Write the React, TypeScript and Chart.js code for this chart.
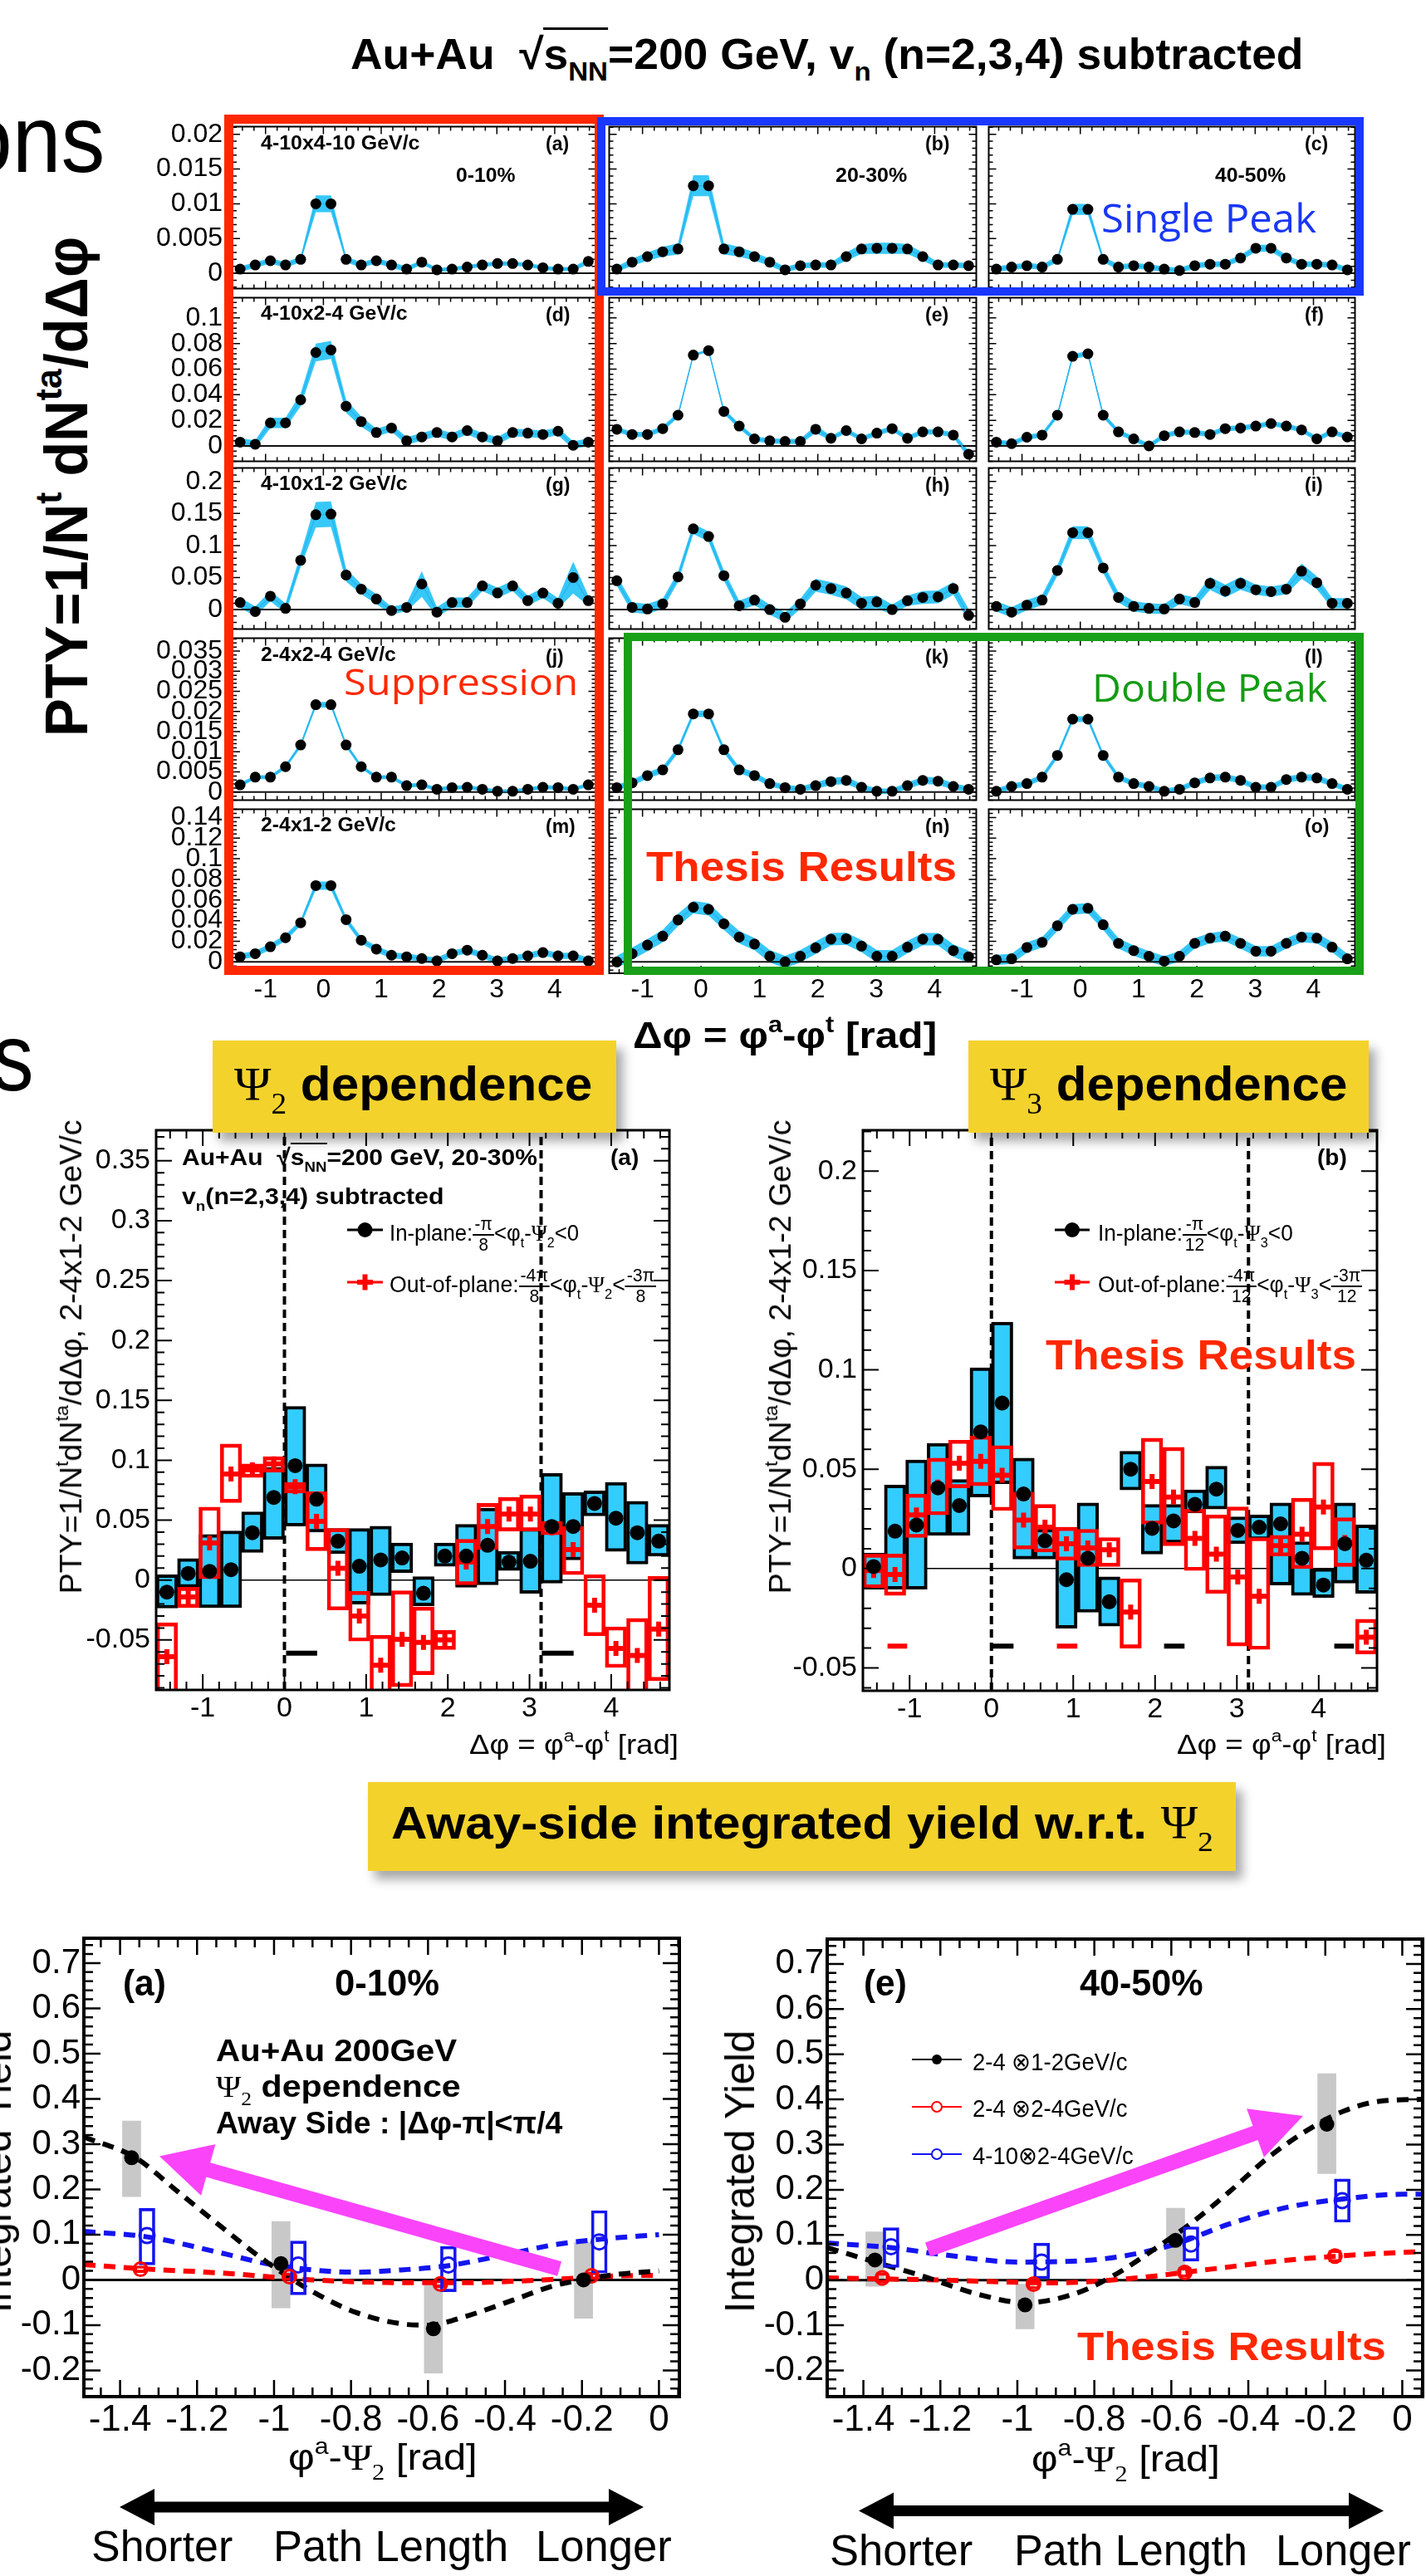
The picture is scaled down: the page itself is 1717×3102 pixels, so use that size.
import React, { useEffect, useLayoutEffect, useRef } from 'react';
import { Chart, registerables } from 'chart.js';

/* ======================= DATA ======================= */
// centres of the pi/12 wide delta-phi bins
const binCenters = [-1.4399, -1.1781, -0.9163, -0.6545, -0.3927, -0.1309, 0.1309, 0.3927, 0.6545, 0.9163, 1.1781, 1.4399, 1.7017, 1.9635, 2.2253, 2.4871, 2.7489, 3.0107, 3.2725, 3.5343, 3.7961, 4.0579, 4.3197, 4.5815];

const gridXTicks = [-1, 0, 1, 2, 3, 4];
const gridYTicksRow1 = [0, 0.005, 0.01, 0.015, 0.02];
const gridYTicksRow2 = [0, 0.02, 0.04, 0.06, 0.08, 0.1];
const gridYTicksRow3 = [0, 0.05, 0.1, 0.15, 0.2];
const gridYTicksRow4 = [0, 0.005, 0.01, 0.015, 0.02, 0.025, 0.03, 0.035];
const gridYTicksRow5 = [0, 0.02, 0.04, 0.06, 0.08, 0.1, 0.12, 0.14];

const ptyA = [0.0006, 0.0012, 0.0018, 0.0012, 0.002, 0.01, 0.01, 0.002, 0.0012, 0.0018, 0.0012, 0.0006, 0.0016, 0.0005, 0.0006, 0.0009, 0.0012, 0.0014, 0.0014, 0.0012, 0.0008, 0.0006, 0.0006, 0.0017];
const sysA = [0.0004, 0.0004, 0.0004, 0.0004, 0.0004, 0.0012, 0.0012, 0.0004, 0.0004, 0.0004, 0.0004, 0.0004, 0.0003, 0.0003, 0.0003, 0.0003, 0.0003, 0.0003, 0.0003, 0.0003, 0.0003, 0.0003, 0.0003, 0.0004];
const ptyB = [0.0006, 0.0016, 0.0024, 0.0031, 0.0035, 0.0126, 0.0126, 0.0035, 0.0031, 0.0024, 0.0016, 0.0005, 0.0011, 0.0012, 0.0012, 0.0024, 0.0035, 0.0036, 0.0036, 0.0035, 0.0024, 0.0012, 0.0012, 0.0011];
const sysB = [0.0004, 0.0005, 0.0006, 0.0007, 0.0008, 0.0015, 0.0015, 0.0008, 0.0007, 0.0006, 0.0005, 0.0004, 0.0004, 0.0004, 0.0004, 0.0006, 0.0007, 0.0008, 0.0008, 0.0007, 0.0006, 0.0004, 0.0004, 0.0004];
const ptyC = [0.0006, 0.0009, 0.0011, 0.0009, 0.002, 0.0092, 0.0092, 0.002, 0.0009, 0.0011, 0.0009, 0.0006, 0.0004, 0.0011, 0.0013, 0.0013, 0.0022, 0.0036, 0.0036, 0.0022, 0.0013, 0.0013, 0.0012, 0.0005];
const sysC = [0.0004, 0.0004, 0.0004, 0.0004, 0.0004, 0.0008, 0.0008, 0.0004, 0.0004, 0.0004, 0.0004, 0.0004, 0.0004, 0.0004, 0.0004, 0.0004, 0.0004, 0.0005, 0.0005, 0.0004, 0.0004, 0.0004, 0.0004, 0.0004];
const ptyD = [0.003, 0.0013, 0.018, 0.018, 0.036, 0.073, 0.075, 0.031, 0.019, 0.0105, 0.014, 0.004, 0.007, 0.0105, 0.007, 0.012, 0.007, 0.004, 0.0105, 0.01, 0.009, 0.0115, 0.0005, 0.003];
const sysD = [0.003, 0.003, 0.004, 0.004, 0.005, 0.007, 0.007, 0.005, 0.004, 0.003, 0.003, 0.003, 0.003, 0.003, 0.003, 0.003, 0.003, 0.003, 0.003, 0.003, 0.003, 0.003, 0.003, 0.003];
const ptyE = [0.013, 0.009, 0.009, 0.0135, 0.024, 0.071, 0.0745, 0.027, 0.0155, 0.0055, 0.004, 0.0035, 0.0035, 0.013, 0.006, 0.012, 0.0055, 0.01, 0.0135, 0.006, 0.011, 0.011, 0.0085, -0.0065];
const sysE = [0.002, 0.002, 0.002, 0.002, 0.002, 0.001, 0.001, 0.002, 0.002, 0.002, 0.002, 0.002, 0.002, 0.003, 0.002, 0.002, 0.002, 0.002, 0.002, 0.002, 0.002, 0.002, 0.002, 0.003];
const ptyF = [0.003, 0.0018, 0.0068, 0.0085, 0.024, 0.07, 0.072, 0.024, 0.011, 0.0055, 0.0, 0.008, 0.011, 0.0105, 0.009, 0.0135, 0.014, 0.0155, 0.0175, 0.0155, 0.0125, 0.0055, 0.011, 0.007];
const sysF = [0.002, 0.002, 0.002, 0.002, 0.002, 0.002, 0.002, 0.002, 0.002, 0.002, 0.002, 0.002, 0.002, 0.002, 0.002, 0.002, 0.002, 0.002, 0.002, 0.002, 0.002, 0.002, 0.002, 0.002];
const ptyG = [0.011, -0.003, 0.021, 0.002, 0.077, 0.148, 0.149, 0.054, 0.032, 0.0165, -0.0015, 0.0035, 0.04, -0.004, 0.011, 0.011, 0.037, 0.026, 0.037, 0.014, 0.026, 0.01, 0.05, 0.014];
const sysG = [0.008, 0.008, 0.008, 0.008, 0.01, 0.02, 0.02, 0.01, 0.008, 0.008, 0.006, 0.006, 0.02, 0.008, 0.008, 0.008, 0.008, 0.008, 0.008, 0.008, 0.008, 0.008, 0.025, 0.008];
const ptyH = [0.045, 0.0035, 0.001, 0.009, 0.051, 0.126, 0.114, 0.053, 0.006, 0.015, 0.0, -0.012, 0.009, 0.038, 0.033, 0.026, 0.01, 0.012, 0.0, 0.014, 0.019, 0.02, 0.033, -0.009];
const sysH = [0.008, 0.008, 0.008, 0.008, 0.008, 0.008, 0.008, 0.008, 0.008, 0.008, 0.008, 0.008, 0.008, 0.01, 0.01, 0.01, 0.01, 0.01, 0.008, 0.008, 0.01, 0.01, 0.01, 0.01];
const ptyI = [0.005, -0.004, 0.007, 0.015, 0.061, 0.12, 0.12, 0.065, 0.019, 0.005, 0.002, 0.001, 0.0165, 0.011, 0.041, 0.029, 0.041, 0.031, 0.028, 0.032, 0.06, 0.042, 0.01, 0.01];
const sysI = [0.008, 0.008, 0.008, 0.008, 0.008, 0.01, 0.01, 0.008, 0.008, 0.008, 0.008, 0.008, 0.008, 0.008, 0.01, 0.01, 0.01, 0.008, 0.008, 0.008, 0.012, 0.01, 0.008, 0.008];
const ptyJ = [0.0018, 0.0037, 0.0037, 0.0063, 0.0117, 0.0217, 0.0217, 0.0117, 0.0063, 0.0037, 0.0037, 0.0016, 0.0018, 0.0007, 0.0011, 0.0012, 0.0007, 0.0002, 0.0002, 0.0007, 0.0012, 0.0011, 0.0007, 0.0018];
const sysJ = [0.0005, 0.0005, 0.0005, 0.0005, 0.0006, 0.0007, 0.0007, 0.0006, 0.0005, 0.0005, 0.0005, 0.0005, 0.0005, 0.0005, 0.0005, 0.0005, 0.0005, 0.0005, 0.0005, 0.0005, 0.0005, 0.0005, 0.0005, 0.0005];
const ptyK = [0.0011, 0.0023, 0.0041, 0.0055, 0.0105, 0.0194, 0.0194, 0.0105, 0.0055, 0.0041, 0.0021, 0.0011, 0.0007, 0.0016, 0.0026, 0.0029, 0.0012, 0.0002, 0.0002, 0.0016, 0.0029, 0.0027, 0.0014, 0.0007];
const sysK = [0.0007, 0.0007, 0.0008, 0.0008, 0.0008, 0.0008, 0.0008, 0.0008, 0.0008, 0.0008, 0.0007, 0.0007, 0.0007, 0.0008, 0.0009, 0.0009, 0.0008, 0.0007, 0.0007, 0.0008, 0.0009, 0.0009, 0.0008, 0.0007];
const ptyL = [0.0002, 0.0014, 0.0021, 0.0037, 0.0091, 0.0181, 0.0181, 0.0091, 0.0037, 0.0021, 0.0014, 0.0002, 0.0007, 0.0023, 0.0035, 0.0037, 0.0029, 0.0012, 0.0012, 0.0031, 0.0037, 0.0035, 0.0021, 0.0007];
const sysL = [0.0007, 0.0007, 0.0007, 0.0007, 0.0007, 0.0007, 0.0007, 0.0007, 0.0007, 0.0007, 0.0007, 0.0007, 0.0007, 0.0007, 0.0008, 0.0008, 0.0007, 0.0007, 0.0007, 0.0008, 0.0008, 0.0008, 0.0007, 0.0007];
const ptyM = [0.005, 0.008, 0.0147, 0.0234, 0.038, 0.074, 0.074, 0.041, 0.021, 0.0124, 0.0065, 0.005, 0.0033, 0.001, 0.008, 0.0114, 0.0065, 0.001, 0.0033, 0.0059, 0.0091, 0.0059, 0.0059, 0.001];
const sysM = [0.003, 0.003, 0.003, 0.003, 0.003, 0.004, 0.004, 0.003, 0.003, 0.003, 0.003, 0.003, 0.003, 0.003, 0.003, 0.003, 0.003, 0.003, 0.003, 0.003, 0.003, 0.003, 0.003, 0.003];
const ptyN = [0.0, 0.008, 0.0163, 0.025, 0.0407, 0.053, 0.051, 0.037, 0.024, 0.0173, 0.0055, 0.0, 0.0055, 0.0137, 0.022, 0.0225, 0.0153, 0.0055, 0.0055, 0.0143, 0.022, 0.022, 0.011, 0.005];
const sysN = [0.006, 0.006, 0.006, 0.006, 0.006, 0.006, 0.006, 0.006, 0.006, 0.006, 0.006, 0.006, 0.006, 0.006, 0.006, 0.006, 0.006, 0.006, 0.006, 0.006, 0.006, 0.006, 0.006, 0.006];
const ptyO = [0.002, 0.003, 0.014, 0.019, 0.035, 0.051, 0.052, 0.036, 0.018, 0.011, 0.0055, 0.0007, 0.0055, 0.018, 0.023, 0.025, 0.018, 0.0104, 0.0104, 0.018, 0.024, 0.023, 0.0143, 0.003];
const sysO = [0.005, 0.005, 0.005, 0.005, 0.005, 0.005, 0.005, 0.005, 0.005, 0.005, 0.005, 0.005, 0.005, 0.005, 0.005, 0.005, 0.005, 0.005, 0.005, 0.005, 0.005, 0.005, 0.005, 0.005];

// Psi2 / Psi3 event-plane dependence, 20-30 %
const midXTicks = [-1, 0, 1, 2, 3, 4];
const psi2YTicks = [-0.05, 0, 0.05, 0.1, 0.15, 0.2, 0.25, 0.3, 0.35];
const psi3YTicks = [-0.05, 0, 0.05, 0.1, 0.15, 0.2];

const psi2InY = [-0.01, 0.0056, 0.0073, 0.0087, 0.0395, 0.069, 0.0955, 0.0675, 0.0325, 0.0115, 0.0168, 0.0185, -0.011, 0.02, 0.02, 0.029, 0.015, 0.0157, 0.0447, 0.0447, 0.064, 0.0517, 0.0395, 0.0325];
const psi2InHi = [0.0045, 0.018, 0.038, 0.041, 0.057, 0.094, 0.145, 0.097, 0.043, 0.043, 0.045, 0.031, 0.0028, 0.031, 0.0465, 0.06, 0.024, 0.043, 0.089, 0.073, 0.0745, 0.0815, 0.0657, 0.0465];
const psi2InLo = [-0.0234, -0.006, -0.023, -0.023, 0.023, 0.034, 0.045, 0.04, 0.022, -0.02, -0.013, 0.0063, -0.0215, 0.0115, -0.006, -0.004, 0.008, -0.011, -0.0025, 0.0168, 0.0535, 0.024, 0.0133, 0.02];
const psi2OutY = [-0.064, -0.014, 0.031, 0.0885, 0.092, 0.097, 0.078, 0.049, 0.0098, -0.03, -0.071, -0.0495, -0.052, -0.05, 0.015, 0.0447, 0.055, 0.055, 0.0437, 0.0255, -0.021, -0.057, -0.063, -0.041];
const psi2OutHi = [-0.0356, -0.006, 0.061, 0.1136, 0.097, 0.103, 0.0815, 0.0738, 0.043, -0.0094, -0.046, -0.009, -0.0225, -0.042, 0.034, 0.064, 0.069, 0.071, 0.049, 0.0448, 0.0045, -0.039, -0.032, 0.003];
const psi2OutLo = [-0.1, -0.023, 0.001, 0.0647, 0.0857, 0.09, 0.0727, 0.0245, -0.025, -0.051, -0.1, -0.089, -0.079, -0.058, -0.004, 0.0255, 0.041, 0.041, 0.0378, 0.0045, -0.0465, -0.073, -0.1, -0.084];
const psi2BlackDashes = [[0.02, 0.4], [3.15, 3.54]];
const psi2RedDashes: number[][] = [];
const psi2DashLevel = -0.061;

const psi3InY = [0.001, 0.0188, 0.0219, 0.0406, 0.0317, 0.0688, 0.0833, 0.0375, 0.014, -0.0056, 0.0052, -0.0167, 0.05, 0.0202, 0.024, 0.0323, 0.04, 0.0192, 0.0208, 0.0225, 0.0052, -0.0083, 0.0125, 0.0042];
const psi3InHi = [0.0077, 0.042, 0.0546, 0.063, 0.0448, 0.101, 0.124, 0.0556, 0.0198, 0.0208, 0.033, -0.0042, 0.059, 0.0323, 0.0323, 0.0396, 0.0515, 0.026, 0.027, 0.033, 0.0135, 0.0, 0.033, 0.0219];
const psi3InLo = [-0.0104, -0.0104, -0.0104, 0.0167, 0.0167, 0.036, 0.0427, 0.0048, 0.0048, -0.03, -0.022, -0.029, 0.0396, 0.0073, 0.0129, 0.028, 0.03, 0.0125, 0.0146, -0.0083, -0.0135, -0.0146, -0.0073, -0.0125];
const psi3OutY = [-0.001, -0.003, 0.027, 0.041, 0.053, 0.054, 0.0469, 0.0244, 0.0208, 0.0125, 0.0104, 0.0094, -0.0219, 0.0438, 0.036, 0.0152, 0.0073, -0.0042, -0.014, 0.0115, 0.0173, 0.031, 0.0131, -0.0345];
const psi3OutHi = [0.0073, 0.0073, 0.0375, 0.0556, 0.0646, 0.0667, 0.0619, 0.0385, 0.0323, 0.0208, 0.0198, 0.0156, -0.0052, 0.0656, 0.061, 0.03, 0.027, 0.031, 0.0156, 0.0167, 0.0354, 0.0535, 0.0256, -0.0255];
const psi3OutLo = [-0.0098, -0.0135, 0.0156, 0.027, 0.0406, 0.0417, 0.0292, 0.0098, 0.0083, 0.0042, 0.001, 0.001, -0.04, 0.0223, 0.0115, -0.001, -0.0125, -0.039, -0.0407, 0.0063, 0.0, 0.0094, 0.001, -0.043];
const psi3BlackDashes = [[0.0, 0.27], [2.11, 2.36], [4.19, 4.43]];
const psi3RedDashes = [[-1.27, -1.03], [0.8, 1.05]];
const psi3DashLevel = -0.039;

// away-side integrated yield vs phi_a - Psi2
const yieldXTicks = [-1.4, -1.2, -1, -0.8, -0.6, -0.4, -0.2, 0];
const yieldYTicks = [-0.2, -0.1, 0, 0.1, 0.2, 0.3, 0.4, 0.5, 0.6, 0.7];

const c010BlackX = [-1.37, -0.982, -0.586, -0.196];
const c010BlackY = [0.27, 0.036, -0.108, 0.0];
const c010BlackLo = [0.184, -0.062, -0.206, -0.085];
const c010BlackHi = [0.351, 0.129, -0.009, 0.083];
const c010RedX = [-1.347, -0.96, -0.568, -0.175];
const c010RedY = [0.0235, 0.007, -0.009, 0.009];
const c010RedLo = [0.016, -0.001, -0.017, 0.001];
const c010RedHi = [0.031, 0.015, -0.001, 0.017];
const c010BlueX = [-1.33, -0.937, -0.547, -0.155];
const c010BlueY = [0.098, 0.033, 0.033, 0.084];
const c010BlueLo = [0.033, -0.033, -0.026, 0.015];
const c010BlueHi = [0.158, 0.086, 0.074, 0.153];
const c010BlackFit = [[-1.494, 0.316], [-1.36, 0.27], [-1.25, 0.195], [-1.135, 0.116], [-1.02, 0.04], [-0.9, -0.026], [-0.787, -0.072], [-0.67, -0.097], [-0.6, -0.1], [-0.5, -0.08], [-0.38, -0.045], [-0.27, -0.012], [-0.2, 0.0], [-0.12, 0.011], [0.0, 0.02]];
const c010BlueFit = [[-1.494, 0.107], [-1.33, 0.095], [-1.135, 0.059], [-1.02, 0.036], [-0.9, 0.022], [-0.787, 0.017], [-0.67, 0.022], [-0.55, 0.031], [-0.38, 0.059], [-0.27, 0.078], [-0.15, 0.09], [0.0, 0.1]];
const c010RedFit = [[-1.494, 0.034], [-1.35, 0.025], [-1.135, 0.015], [-0.9, 0.0], [-0.67, -0.006], [-0.5, -0.006], [-0.3, 0.0], [-0.1, 0.009], [0.0, 0.01]];

const c4050BlackX = [-1.37, -0.98, -0.589, -0.196];
const c4050BlackY = [0.0445, -0.055, 0.088, 0.345];
const c4050BlackLo = [-0.014, -0.108, 0.02, 0.236];
const c4050BlackHi = [0.107, -0.009, 0.159, 0.457];
const c4050RedX = [-1.351, -0.958, -0.565, -0.175];
const c4050RedY = [0.005, -0.009, 0.017, 0.053];
const c4050RedLo = [-0.006, -0.02, 0.006, 0.04];
const c4050RedHi = [0.016, 0.002, 0.028, 0.066];
const c4050BlueX = [-1.328, -0.937, -0.549, -0.156];
const c4050BlueY = [0.074, 0.04, 0.08, 0.176];
const c4050BlueLo = [0.028, 0.003, 0.042, 0.128];
const c4050BlueHi = [0.116, 0.082, 0.118, 0.224];
const c4050BlackFit = [[-1.494, 0.072], [-1.37, 0.04], [-1.25, 0.01], [-1.1, -0.032], [-0.98, -0.05], [-0.85, -0.03], [-0.75, 0.01], [-0.65, 0.065], [-0.55, 0.125], [-0.45, 0.195], [-0.35, 0.27], [-0.25, 0.33], [-0.15, 0.375], [-0.05, 0.397], [0.05, 0.4]];
const c4050BlueFit = [[-1.494, 0.082], [-1.33, 0.072], [-1.2, 0.057], [-1.0, 0.04], [-0.8, 0.045], [-0.6, 0.077], [-0.45, 0.124], [-0.3, 0.161], [-0.15, 0.18], [0.0, 0.19], [0.05, 0.19]];
const c4050RedFit = [[-1.494, 0.005], [-1.2, 0.0], [-0.9, -0.006], [-0.7, 0.004], [-0.5, 0.024], [-0.3, 0.044], [-0.1, 0.057], [0.05, 0.063]];

/* ======================= STYLE / LAYOUT ======================= */
const SANS = "'Liberation Sans', Arial, Helvetica, sans-serif";
const SERIF = "'Liberation Serif', 'Times New Roman', serif";
const GILL = "'Open Sans', 'Noto Sans', sans-serif";
const BAND = 'rgb(55,200,248)';
const BANDLINE = 'rgb(40,180,240)';
const CYAN = 'rgb(51,204,255)';
const RED = 'rgb(255,0,0)';
const BLUE = 'rgb(20,20,240)';
const PAD = 4;
const PHI_MIN = -Math.PI / 2;
const PHI_MAX = (3 * Math.PI) / 2;
const PAGE_W = 1717;

const GRID_COLS = [[280, 720], [731, 1178], [1188, 1634]];
const GRID_ROWS = [[150, 350], [356, 558], [561, 760], [766, 966], [972, 1172]];
const GRID_YR = [[-0.0022, 0.0211], [-0.012, 0.1158], [-0.0303, 0.221], [-0.002, 0.0382], [-0.011, 0.148]];
const GRID_YT = [gridYTicksRow1, gridYTicksRow2, gridYTicksRow3, gridYTicksRow4, gridYTicksRow5];
const GRID_YMAJ = [0.005, 0.02, 0.05, 0.005, 0.02];
const GRID_YMIN = [0.001, 0.004, 0.01, 0.001, 0.004];
const GRID_DATA = [[ptyA, ptyB, ptyC], [ptyD, ptyE, ptyF], [ptyG, ptyH, ptyI], [ptyJ, ptyK, ptyL], [ptyM, ptyN, ptyO]];
const GRID_SYS = [[sysA, sysB, sysC], [sysD, sysE, sysF], [sysG, sysH, sysI], [sysJ, sysK, sysL], [sysM, sysN, sysO]];

Chart.register(...registerables);

const rootFrame = {
  id: 'rootFrame',
  afterDatasetsDraw(chart: any, _a: any, o: any) {
    if (!o || !o.xMinor) return;
    const { ctx, chartArea: a } = chart;
    const xs = chart.scales.x;
    const ys = chart.scales.y;
    const steps = (mn: number, mx: number, st: number) => {
      const r: number[] = [];
      for (let k = Math.ceil(mn / st - 1e-6); k <= Math.floor(mx / st + 1e-6); k++) r.push(k * st);
      return r;
    };
    const isMaj = (v: number, m: number) => Math.abs(v / m - Math.round(v / m)) < 1e-4;
    ctx.save();
    ctx.strokeStyle = '#000';
    ctx.lineWidth = o.tw;
    ctx.beginPath();
    for (const v of steps(xs.min, xs.max, o.xMinor)) {
      const L = isMaj(v, o.xMajor) ? o.majLen : o.minLen;
      const p = xs.getPixelForValue(v);
      ctx.moveTo(p, a.bottom); ctx.lineTo(p, a.bottom - L);
      ctx.moveTo(p, a.top); ctx.lineTo(p, a.top + L);
    }
    for (const v of steps(ys.min, ys.max, o.yMinor)) {
      const L = isMaj(v, o.yMajor) ? o.majLen : o.minLen;
      const p = ys.getPixelForValue(v);
      ctx.moveTo(a.left, p); ctx.lineTo(a.left + L, p);
      ctx.moveTo(a.right, p); ctx.lineTo(a.right - L, p);
    }
    ctx.stroke();
    ctx.lineWidth = o.lw;
    ctx.strokeRect(a.left, a.top, a.right - a.left, a.bottom - a.top);
    ctx.restore();
  },
};
Chart.register(rootFrame);

const fmt = (v: number) => {
  const s = String(Math.round(v * 1e6) / 1e6);
  return s === '-0' ? '0' : s;
};

function axis(o: any) {
  return {
    type: 'linear', min: o.min, max: o.max, display: o.show, offset: false,
    grid: { display: false, drawTicks: false },
    border: { display: false },
    ticks: { color: '#000', font: { family: SANS, size: o.font }, padding: o.pad, autoSkip: false, maxRotation: 0, minRotation: 0, callback: (v: number) => fmt(v) },
    afterBuildTicks: (s: any) => { s.ticks = o.ticks.map((v: number) => ({ value: v })); },
    afterFit: (s: any) => {
      if (!o.show) return;
      if (o.horiz) s.height = o.size; else s.width = o.size;
      s.paddingTop = 0; s.paddingBottom = 0; s.paddingLeft = 0; s.paddingRight = 0;
    },
  };
}

function opts(x: any, y: any, frame: any) {
  return {
    animation: false, responsive: false, maintainAspectRatio: false, events: [],
    layout: { padding: PAD },
    plugins: { legend: { display: false }, tooltip: { enabled: false }, colors: { enabled: false }, rootFrame: frame },
    scales: { x, y },
  };
}

function place(l: number, t: number, r: number, b: number, W: number, H: number) {
  return { left: Math.round(l - W - PAD), top: Math.round(t - PAD), width: Math.round(r - l + W + 2 * PAD), height: Math.round(b - t + H + 2 * PAD) };
}

function gridChart(row: number, col: number) {
  const vals = GRID_DATA[row][col];
  const sys = GRID_SYS[row][col];
  const pts = vals.map((v, i) => ({ x: binCenters[i], y: v }));
  const hi = vals.map((v, i) => ({ x: binCenters[i], y: v + sys[i] }));
  const lo = vals.map((v, i) => ({ x: binCenters[i], y: v - sys[i] }));
  const T = 'rgba(0,0,0,0)';
  return {
    type: 'line',
    data: {
      datasets: [
        { data: hi, order: 3, fill: '+1', backgroundColor: BAND, borderColor: T, borderWidth: 1, pointRadius: 0 },
        { data: lo, order: 4, fill: false, borderColor: T, borderWidth: 1, pointRadius: 0 },
        { data: pts, order: 0, borderColor: BANDLINE, borderWidth: 1.5, pointRadius: 6.5, pointBackgroundColor: '#000', pointBorderColor: '#000', pointBorderWidth: 0 },
        { data: [{ x: PHI_MIN, y: 0 }, { x: PHI_MAX, y: 0 }], order: 1, borderColor: '#111', borderWidth: 2, pointRadius: 0 },
      ],
    },
    options: opts(
      axis({ min: PHI_MIN, max: PHI_MAX, ticks: gridXTicks, show: row === 4, font: 32, pad: 1, horiz: true, size: 45 }),
      axis({ min: GRID_YR[row][0], max: GRID_YR[row][1], ticks: GRID_YT[row], show: col === 0, font: 32, pad: 12, horiz: false, size: 110 }),
      { xMajor: 1, xMinor: 0.2, yMajor: GRID_YMAJ[row], yMinor: GRID_YMIN[row], majLen: 9, minLen: 5, tw: 1.5, lw: 2 }
    ),
  };
}

function dashData(segs: number[][], lvl: number) {
  const out: any[] = [];
  segs.forEach(([a, b]) => { out.push({ x: a, y: lvl }, { x: b, y: lvl }, { x: b, y: null }); });
  return out;
}

function midChart(inY: number[], inLo: number[], inHi: number[], outY: number[], outLo: number[], outHi: number[], bDash: number[][], rDash: number[][], lvl: number, yMin: number, yMax: number, yTicks: number[]) {
  const box = { type: 'bar', grouped: false, barPercentage: 1, categoryPercentage: 1, borderSkipped: false, borderWidth: 4 };
  return {
    type: 'line',
    data: {
      datasets: [
        { data: dashData(bDash, lvl), order: -2, borderColor: '#000', borderWidth: 6, pointRadius: 0 },
        { data: dashData(rDash, lvl), order: -1, borderColor: RED, borderWidth: 6, pointRadius: 0 },
        { data: inY.map((v, i) => ({ x: binCenters[i], y: v })), order: 0, showLine: false, pointRadius: 9, pointBackgroundColor: '#000', pointBorderWidth: 0 },
        { data: outY.map((v, i) => ({ x: binCenters[i], y: v })), order: 1, showLine: false, pointStyle: 'cross', pointRadius: 9, pointBorderColor: RED, pointBorderWidth: 6 },
        { ...box, data: outY.map((_, i) => ({ x: binCenters[i], y: [outLo[i], outHi[i]] })), order: 2, backgroundColor: 'rgba(0,0,0,0)', borderColor: RED },
        { ...box, data: inY.map((_, i) => ({ x: binCenters[i], y: [inLo[i], inHi[i]] })), order: 3, backgroundColor: CYAN, borderColor: '#000' },
        { data: [{ x: PHI_MIN, y: 0 }, { x: PHI_MAX, y: 0 }], order: 4, borderColor: '#000', borderWidth: 1.5, pointRadius: 0 },
        { data: [{ x: 0, y: yMin }, { x: 0, y: yMax }], order: 5, borderColor: '#000', borderWidth: 4, borderDash: [10, 6], pointRadius: 0 },
        { data: [{ x: Math.PI, y: yMin }, { x: Math.PI, y: yMax }], order: 5, borderColor: '#000', borderWidth: 4, borderDash: [10, 6], pointRadius: 0 },
      ],
    },
    options: opts(
      axis({ min: PHI_MIN, max: PHI_MAX, ticks: midXTicks, show: true, font: 34, pad: 2, horiz: true, size: 50 }),
      axis({ min: yMin, max: yMax, ticks: yTicks, show: true, font: 34, pad: 7, horiz: false, size: 110 }),
      { xMajor: 1, xMinor: 0.2, yMajor: 0.05, yMinor: 0.01, majLen: 19, minLen: 10, tw: 2, lw: 3 }
    ),
  };
}

function yieldChart(d: any) {
  const bar = { type: 'bar', grouped: false, borderSkipped: false };
  const xy = (xs: number[], ys: number[]) => xs.map((x, i) => ({ x, y: ys[i] }));
  const rng = (xs: number[], lo: number[], hi: number[]) => xs.map((x, i) => ({ x, y: [lo[i], hi[i]] }));
  const fit = (f: number[][]) => f.map(([x, y]) => ({ x, y }));
  const curve = { borderWidth: 6, borderDash: [14, 10], pointRadius: 0, cubicInterpolationMode: 'monotone' };
  return {
    type: 'line',
    data: {
      datasets: [
        { data: xy(d.bx, d.by), order: 0, showLine: false, pointRadius: 9, pointBackgroundColor: '#000', pointBorderWidth: 0 },
        { data: xy(d.rx, d.ry), order: 1, showLine: false, pointRadius: 8, pointBackgroundColor: 'rgba(0,0,0,0)', pointBorderColor: RED, pointBorderWidth: 3 },
        { data: xy(d.ux, d.uy), order: 2, showLine: false, pointRadius: 9, pointBackgroundColor: 'rgba(0,0,0,0)', pointBorderColor: BLUE, pointBorderWidth: 3 },
        { ...bar, data: rng(d.ux, d.ulo, d.uhi), order: 3, barThickness: 19, backgroundColor: 'rgba(0,0,0,0)', borderColor: BLUE, borderWidth: 3 },
        { ...bar, data: rng(d.rx, d.rlo, d.rhi), order: 4, barThickness: 15, backgroundColor: 'rgba(0,0,0,0)', borderColor: RED, borderWidth: 3 },
        { ...curve, data: fit(d.bf), order: 5, borderColor: '#000' },
        { ...curve, data: fit(d.uf), order: 6, borderColor: BLUE },
        { ...curve, data: fit(d.rf), order: 7, borderColor: RED },
        { data: [{ x: -1.494, y: 0 }, { x: 0.053, y: 0 }], order: 8, borderColor: '#000', borderWidth: 3, pointRadius: 0 },
        { ...bar, data: rng(d.bx, d.blo, d.bhi), order: 9, barThickness: 22, backgroundColor: 'rgb(200,200,200)', borderWidth: 0 },
      ],
    },
    options: opts(
      axis({ min: -1.494, max: 0.053, ticks: yieldXTicks, show: true, font: 44, pad: 2, horiz: true, size: 55 }),
      axis({ min: -0.258, max: 0.755, ticks: yieldYTicks, show: true, font: 42, pad: 4, horiz: false, size: 95 }),
      { xMajor: 0.2, xMinor: 0.05, yMajor: 0.1, yMinor: 0.02, majLen: 20, minLen: 11, tw: 2.5, lw: 4 }
    ),
  };
}

/* ======================= COMPONENTS ======================= */
function ChartBox({ box, config }: any) {
  const ref = useRef<HTMLCanvasElement>(null);
  useEffect(() => {
    const chart = new Chart(ref.current as HTMLCanvasElement, config);
    return () => chart.destroy();
  }, []);
  return <canvas ref={ref} width={box.width} height={box.height} style={{ position: 'absolute', left: box.left, top: box.top, width: box.width, height: box.height }} />;
}

// x = left edge (or rx = right edge), y = baseline, w = target width (optional)
function T({ x, rx, y, w, size, bold, color, fam, weight, children }: any) {
  const ref = useRef<HTMLDivElement>(null);
  useLayoutEffect(() => {
    const el = ref.current;
    if (!el || !w) return;
    const nat = el.offsetWidth;
    if (nat > 0) el.style.transform = `scaleX(${w / nat})`;
  }, []);
  const right = rx !== undefined;
  const pos: any = right ? { right: PAGE_W - rx } : { left: x };
  return (
    <div ref={ref} style={{ position: 'absolute', ...pos, top: y - 0.8465 * size, fontSize: size, lineHeight: `${size}px`, whiteSpace: 'nowrap', fontFamily: fam || SANS, fontWeight: weight ?? (bold ? 700 : 400), color: color || '#000', transformOrigin: right ? 'right top' : 'left top' }}>
      {children}
    </div>
  );
}

function VT({ bx, y1, y2, size, bold, children }: any) {
  const ref = useRef<HTMLDivElement>(null);
  const cx = bx - 0.3465 * size;
  const cy = (y1 + y2) / 2;
  useLayoutEffect(() => {
    const el = ref.current;
    if (!el) return;
    const nat = el.offsetWidth;
    if (nat > 0) el.style.transform = `translate(-50%,-50%) rotate(-90deg) scaleX(${(y2 - y1) / nat})`;
  }, []);
  return (
    <div style={{ position: 'absolute', left: cx, top: cy, width: 0, height: 0 }}>
      <div ref={ref} style={{ position: 'absolute', left: 0, top: 0, fontSize: size, lineHeight: `${size}px`, whiteSpace: 'nowrap', fontFamily: SANS, fontWeight: bold ? 700 : 400, transform: 'translate(-50%,-50%) rotate(-90deg)' }}>
        {children}
      </div>
    </div>
  );
}

const Sub = ({ children }: any) => <span style={{ fontSize: '0.62em', position: 'relative', top: '0.45em' }}>{children}</span>;
const Sup = ({ children }: any) => <span style={{ fontSize: '0.62em', position: 'relative', top: '-0.7em' }}>{children}</span>;
const Psi = () => <span style={{ fontFamily: SERIF, fontWeight: 400 }}>Ψ</span>;
const PsiN = ({ n }: any) => (
  <span style={{ fontFamily: SERIF, fontWeight: 400 }}>Ψ<span style={{ fontSize: '0.62em', position: 'relative', top: '0.45em' }}>{n}</span></span>
);
function Frac({ n, d, w }: any) {
  return (
    <span style={{ display: 'inline-block', position: 'relative', width: `${w}em`, height: 0, verticalAlign: 'baseline' }}>
      <span style={{ position: 'absolute', left: 0, right: 0, bottom: '0.45em', textAlign: 'center', fontSize: '0.8em', lineHeight: 1 }}>{n}</span>
      <span style={{ position: 'absolute', left: 0, right: 0, top: '-0.32em', borderTop: '2px solid #000' }} />
      <span style={{ position: 'absolute', left: 0, right: 0, top: '-0.3em', textAlign: 'center', fontSize: '0.8em', lineHeight: 1 }}>{d}</span>
    </span>
  );
}

function arrowPts(tx: number, ty: number, px: number, py: number, s: number, h: number, w: number) {
  const L = Math.hypot(px - tx, py - ty);
  const ux = (px - tx) / L, uy = (py - ty) / L;
  const nx = -uy, ny = ux;
  const bx = px - ux * h, by = py - uy * h;
  const p = [
    [tx + nx * s, ty + ny * s], [bx + nx * s, by + ny * s], [bx + nx * w, by + ny * w], [px, py],
    [bx - nx * w, by - ny * w], [bx - nx * s, by - ny * s], [tx - nx * s, ty - ny * s],
  ];
  return p.map((q) => q.join(',')).join(' ');
}
function dblArrow(x1: number, x2: number, y: number, s: number, h: number, w: number) {
  const p = [[x1, y], [x1 + h, y - w], [x1 + h, y - s], [x2 - h, y - s], [x2 - h, y - w], [x2, y], [x2 - h, y + w], [x2 - h, y + s], [x1 + h, y + s], [x1 + h, y + w]];
  return p.map((q) => q.join(',')).join(' ');
}

const frameBox = (l: number, t: number, r: number, b: number, bw: number, c: string) => (
  <div style={{ position: 'absolute', left: l, top: t, width: r - l, height: b - t, border: `${bw}px solid ${c}`, boxSizing: 'border-box' }} />
);
const yellow = (l: number, t: number, r: number, b: number) => (
  <div style={{ position: 'absolute', left: l, top: t, width: r - l, height: b - t, background: 'rgb(244,210,44)', boxShadow: '8px 10px 12px rgba(0,0,0,0.35)' }} />
);

export default function App() {
  const cells: any[] = [];
  for (let r = 0; r < 5; r++) {
    for (let c = 0; c < 3; c++) {
      const [l, rr] = GRID_COLS[c];
      const [t, b] = GRID_ROWS[r];
      cells.push(<ChartBox key={`g${r}${c}`} box={place(l, t, rr, b, c === 0 ? 110 : 0, r === 4 ? 45 : 0)} config={gridChart(r, c)} />);
    }
  }
  const letters = [['(a)', '(b)', '(c)'], ['(d)', '(e)', '(f)'], ['(g)', '(h)', '(i)'], ['(j)', '(k)', '(l)'], ['(m)', '(n)', '(o)']];
  const letterY = [181, 387.5, 592.6, 799, 1003];
  const letterX = [657, 1114, 1571];
  const rowLabels = ['4-10x4-10 GeV/c', '4-10x2-4 GeV/c', '4-10x1-2 GeV/c', '2-4x2-4 GeV/c', '2-4x1-2 GeV/c'];
  const rowLabelW = [191, 177, 177, 163, 163];
  const rowLabelY = [180, 385.5, 590.6, 796.7, 1001.6];

  const d010 = { bx: c010BlackX, by: c010BlackY, blo: c010BlackLo, bhi: c010BlackHi, rx: c010RedX, ry: c010RedY, rlo: c010RedLo, rhi: c010RedHi, ux: c010BlueX, uy: c010BlueY, ulo: c010BlueLo, uhi: c010BlueHi, bf: c010BlackFit, uf: c010BlueFit, rf: c010RedFit };
  const d4050 = { bx: c4050BlackX, by: c4050BlackY, blo: c4050BlackLo, bhi: c4050BlackHi, rx: c4050RedX, ry: c4050RedY, rlo: c4050RedLo, rhi: c4050RedHi, ux: c4050BlueX, uy: c4050BlueY, ulo: c4050BlueLo, uhi: c4050BlueHi, bf: c4050BlackFit, uf: c4050BlueFit, rf: c4050RedFit };

  const TR = 'rgb(255,40,0)';
  return (
    <div style={{ position: 'absolute', left: 0, top: 0, width: PAGE_W, height: 3102, background: '#fff', overflow: 'hidden' }}>
      {cells}
      <ChartBox box={place(188, 1350, 817, 2035, 110, 50)} config={midChart(psi2InY, psi2InLo, psi2InHi, psi2OutY, psi2OutLo, psi2OutHi, psi2BlackDashes, psi2RedDashes, psi2DashLevel, -0.0917, 0.3755, psi2YTicks)} />
      <ChartBox box={place(1039, 1350, 1669, 2036, 110, 50)} config={midChart(psi3InY, psi3InLo, psi3InHi, psi3OutY, psi3OutLo, psi3OutHi, psi3BlackDashes, psi3RedDashes, psi3DashLevel, -0.0615, 0.2206, psi3YTicks)} />
      <ChartBox box={place(101, 2326, 826, 2886, 95, 55)} config={yieldChart(d010)} />
      <ChartBox box={place(996, 2327, 1721, 2886, 95, 55)} config={yieldChart(d4050)} />

      {/* highlight frames */}
      {frameBox(270, 138, 727, 1174, 11, 'rgb(255,40,0)')}
      {frameBox(719, 141, 1642, 356, 10, 'rgb(25,55,255)')}
      {frameBox(751, 762, 1642, 1174, 10, 'rgb(25,160,25)')}
      {yellow(256, 1253, 742, 1364)}
      {yellow(1166, 1253, 1648, 1364)}
      {yellow(443, 2146, 1488, 2253)}

      {/* ---------- top grid texts ---------- */}
      <T x={422} y={83} w={1147} size={52} bold>
        Au+Au&nbsp;&nbsp;√<span style={{ borderTop: '3px solid #000' }}>s<Sub>NN</Sub></span>=200 GeV, v<Sub>n</Sub> (n=2,3,4) subtracted
      </T>
      <T rx={126} y={207} w={170} size={115}>ons</T>
      <VT bx={110} y1={285} y2={887} size={72} bold>PTY=1/N<Sup>t</Sup> dN<Sup>ta</Sup>/dΔφ</VT>
      {rowLabels.map((s, i) => <T key={`rl${i}`} x={314} y={rowLabelY[i]} w={rowLabelW[i]} size={23} bold>{s}</T>)}
      {letters.map((row, r) => row.map((s, c) => <T key={`lt${r}${c}`} x={letterX[c]} y={letterY[r]} size={23} bold>{s}</T>))}
      <T x={549} y={219} w={71} size={23} bold>0-10%</T>
      <T x={1006} y={219} w={86} size={23} bold>20-30%</T>
      <T x={1463} y={219} w={85} size={23} bold>40-50%</T>
      <T x={1326} y={279} w={259} size={47} fam={GILL} color="rgb(25,55,245)">Single Peak</T>
      <T x={414} y={835} w={282} size={44} fam={GILL} color={TR}>Suppression</T>
      <T x={1315} y={843} w={283} size={46} fam={GILL} color="rgb(20,155,20)">Double Peak</T>
      <T x={778} y={1061} w={374} size={50} bold color={TR}>Thesis Results</T>
      <T x={762} y={1262} w={366} size={44} bold>Δφ = φ<Sup>a</Sup>-φ<Sup>t</Sup> [rad]</T>

      {/* ---------- middle texts ---------- */}
      <T rx={40} y={1313} w={50} size={115}>s</T>
      <T x={282} y={1325} w={431} size={58} bold><PsiN n="2" /> dependence</T>
      <T x={1192} y={1325} w={430} size={58} bold><PsiN n="3" /> dependence</T>
      <T x={219} y={1404} w={428} size={28} bold>
        Au+Au&nbsp;&nbsp;√<span style={{ borderTop: '2px solid #000' }}>s<Sub>NN</Sub></span>=200 GeV, 20-30%
      </T>
      <T x={735} y={1404} size={28} bold>(a)</T>
      <T x={219} y={1451} w={316} size={28} bold>v<Sub>n</Sub>(n=2,3,4) subtracted</T>
      <T x={469} y={1495} w={228} size={27}>In-plane:<Frac n="-π" d="8" w={1.0} />&lt;φ<Sub>t</Sub>-<Psi /><Sub>2</Sub>&lt;0</T>
      <T x={469} y={1557} w={321} size={27}>Out-of-plane:<Frac n="-4π" d="8" w={1.4} />&lt;φ<Sub>t</Sub>-<Psi /><Sub>2</Sub>&lt;<Frac n="-3π" d="8" w={1.4} /></T>
      <T x={1586} y={1404} size={28} bold>(b)</T>
      <T x={1322} y={1495} w={235} size={27}>In-plane:<Frac n="-π" d="12" w={1.1} />&lt;φ<Sub>t</Sub>-<Psi /><Sub>3</Sub>&lt;0</T>
      <T x={1322} y={1557} w={318} size={27}>Out-of-plane:<Frac n="-4π" d="12" w={1.4} />&lt;φ<Sub>t</Sub>-<Psi /><Sub>3</Sub>&lt;<Frac n="-3π" d="12" w={1.4} /></T>
      <T x={1259} y={1649} w={374} size={50} bold color={TR}>Thesis Results</T>
      <VT bx={101} y1={1348} y2={1919} size={37}>PTY=1/N<Sup>t</Sup>dN<Sup>ta</Sup>/dΔφ, 2-4x1-2 GeV/c</VT>
      <VT bx={955} y1={1348} y2={1919} size={37}>PTY=1/N<Sup>t</Sup>dN<Sup>ta</Sup>/dΔφ, 2-4x1-2 GeV/c</VT>
      <T x={565} y={2112} w={252} size={34}>Δφ = φ<Sup>a</Sup>-φ<Sup>t</Sup> [rad]</T>
      <T x={1417} y={2112} w={252} size={34}>Δφ = φ<Sup>a</Sup>-φ<Sup>t</Sup> [rad]</T>

      {/* ---------- bottom texts ---------- */}
      <T x={471} y={2214} w={990} size={56} bold>Away-side integrated yield w.r.t. <PsiN n="2" /></T>
      <T x={148} y={2403} w={52} size={44} bold>(a)</T>
      <T x={403} y={2403} w={126} size={44} bold>0-10%</T>
      <T x={1040} y={2403} w={52} size={44} bold>(e)</T>
      <T x={1300} y={2403} w={149} size={44} bold>40-50%</T>
      <T x={260} y={2482} w={290} size={36} bold>Au+Au 200GeV</T>
      <T x={260} y={2525} w={295} size={36} bold><PsiN n="2" /> dependence</T>
      <T x={260} y={2569} w={417} size={36} bold>Away Side : |Δφ-π|&lt;π/4</T>
      <T x={1171} y={2493} w={186} size={30}>2-4 ⊗1-2GeV/c</T>
      <T x={1171} y={2549} w={186} size={30}>2-4 ⊗2-4GeV/c</T>
      <T x={1171} y={2606} w={194} size={30}>4-10⊗2-4GeV/c</T>
      <T x={1297} y={2843} w={372} size={48} bold color={TR}>Thesis Results</T>
      <VT bx={908} y1={2444} y2={2785} size={50}>Integrated Yield</VT>
      <VT bx={13} y1={2444} y2={2785} size={50}>Integrated Yield</VT>
      <T x={347} y={2974} w={228} size={44}>φ<Sup>a</Sup>-<PsiN n="2" /> [rad]</T>
      <T x={1242} y={2976} w={227} size={44}>φ<Sup>a</Sup>-<PsiN n="2" /> [rad]</T>
      <T x={110} y={3084} w={170} size={51}>Shorter</T>
      <T x={329} y={3084} w={283} size={51}>Path Length</T>
      <T x={645} y={3084} w={164} size={51}>Longer</T>
      <T x={999} y={3089} w={172} size={51}>Shorter</T>
      <T x={1221} y={3089} w={281} size={51}>Path Length</T>
      <T x={1536} y={3089} w={163} size={51}>Longer</T>

      <svg width={PAGE_W} height={3102} style={{ position: 'absolute', left: 0, top: 0, pointerEvents: 'none' }}>
        {/* legend markers, psi2 */}
        <line x1={418} y1={1481} x2={461} y2={1481} stroke="#000" strokeWidth={3} />
        <circle cx={439.5} cy={1481} r={9} fill="#000" />
        <line x1={418} y1={1544} x2={461} y2={1544} stroke={RED} strokeWidth={3} />
        <rect x={430} y={1541} width={19} height={6} fill={RED} />
        <rect x={436.5} y={1534.5} width={6} height={19} fill={RED} />
        {/* legend markers, psi3 */}
        <line x1={1270} y1={1481} x2={1312} y2={1481} stroke="#000" strokeWidth={3} />
        <circle cx={1291} cy={1481} r={9} fill="#000" />
        <line x1={1270} y1={1544} x2={1312} y2={1544} stroke={RED} strokeWidth={3} />
        <rect x={1281.5} y={1541} width={19} height={6} fill={RED} />
        <rect x={1288} y={1534.5} width={6} height={19} fill={RED} />
        {/* legend markers, yield */}
        <line x1={1098} y1={2480} x2={1158} y2={2480} stroke="#000" strokeWidth={2} />
        <circle cx={1128} cy={2480} r={6} fill="#000" />
        <line x1={1098} y1={2537} x2={1158} y2={2537} stroke={RED} strokeWidth={2} />
        <circle cx={1128} cy={2537} r={6} fill="#fff" stroke={RED} strokeWidth={2} />
        <line x1={1098} y1={2594} x2={1158} y2={2594} stroke={BLUE} strokeWidth={2} />
        <circle cx={1128} cy={2594} r={6} fill="#fff" stroke={BLUE} strokeWidth={2} />
        {/* arrows */}
        <polygon points={arrowPts(673.6, 2732, 192, 2596.4, 9, 61, 32)} fill="rgb(250,68,250)" />
        <polygon points={arrowPts(1117, 2709, 1569, 2548, 9, 61, 31)} fill="rgb(250,68,250)" />
        <polygon points={dblArrow(144, 775, 3019, 6.5, 42, 22)} fill="#000" />
        <polygon points={dblArrow(1034, 1666, 3023.6, 6.5, 42, 22)} fill="#000" />
      </svg>
    </div>
  );
}
